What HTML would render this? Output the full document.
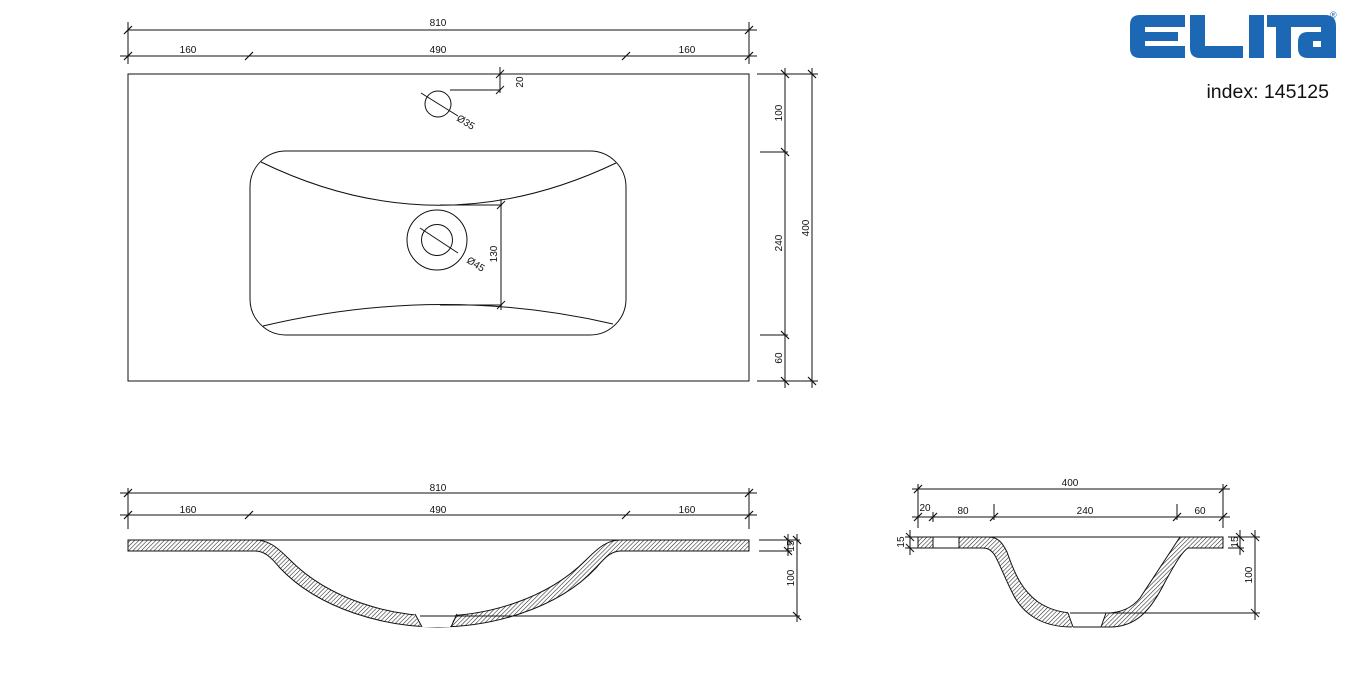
<!DOCTYPE html>
<html><head><meta charset="utf-8"><style>
html,body{margin:0;padding:0;background:#fff;}
svg{display:block;}
text{font-family:"Liberation Sans",sans-serif;font-size:10px;fill:#111;}
</style></head><body>
<svg width="1351" height="674" viewBox="0 0 1351 674" xmlns="http://www.w3.org/2000/svg">
<defs>
<pattern id="h" width="3" height="3" patternUnits="userSpaceOnUse" patternTransform="rotate(45)">
<rect width="3" height="3" fill="#fff"/><line x1="0" y1="0" x2="0" y2="3" stroke="#222" stroke-width="1.1"/>
</pattern>
</defs>
<g stroke="#111" stroke-width="1" fill="none">
<rect x="128" y="74" width="621" height="307"/>
<line x1="128" y1="30" x2="757" y2="30"/><line x1="120" y1="56" x2="757" y2="56"/>
<line x1="128" y1="22" x2="128" y2="64"/><line x1="749" y1="22" x2="749" y2="64"/>
<g stroke-width="1.2">
<line x1="124" y1="34" x2="132" y2="26"/><line x1="745" y1="34" x2="753" y2="26"/>
<line x1="124" y1="60" x2="132" y2="52"/><line x1="245" y1="60" x2="253" y2="52"/>
<line x1="622" y1="60" x2="630" y2="52"/><line x1="745" y1="60" x2="753" y2="52"/>
</g>
<circle cx="438" cy="104" r="13"/>
<line x1="421" y1="93" x2="458" y2="116"/>
<line x1="500" y1="67" x2="500" y2="93"/><line x1="450" y1="90" x2="500" y2="90"/>
<line x1="496" y1="78" x2="504" y2="70"/><line x1="496" y1="94" x2="504" y2="86"/>
<rect x="250" y="151" width="376" height="184" rx="36"/>
<path d="M261,162 Q438,248 616,163"/>
<path d="M263,326 Q440,284 613,324"/>
<circle cx="437" cy="240" r="30"/><circle cx="437" cy="240" r="15.5"/>
<line x1="420" y1="228" x2="458" y2="253"/>
<line x1="440" y1="205" x2="502" y2="205"/><line x1="440" y1="305" x2="502" y2="305"/>
<line x1="501" y1="199" x2="501" y2="310"/>
<line x1="497" y1="209" x2="505" y2="201"/><line x1="497" y1="309" x2="505" y2="301"/>
<line x1="757" y1="74" x2="818" y2="74"/><line x1="760" y1="152" x2="788" y2="152"/>
<line x1="760" y1="335" x2="788" y2="335"/><line x1="757" y1="381" x2="818" y2="381"/>
<line x1="785" y1="68" x2="785" y2="388"/><line x1="812" y1="68" x2="812" y2="388"/>
<g stroke-width="1.2">
<line x1="781" y1="70" x2="789" y2="78"/><line x1="781" y1="148" x2="789" y2="156"/>
<line x1="781" y1="331" x2="789" y2="339"/><line x1="781" y1="377" x2="789" y2="385"/>
<line x1="808" y1="70" x2="816" y2="78"/><line x1="808" y1="377" x2="816" y2="385"/>
</g>
<line x1="120" y1="493" x2="757" y2="493"/><line x1="120" y1="515" x2="757" y2="515"/>
<line x1="128" y1="488" x2="128" y2="529"/><line x1="749" y1="488" x2="749" y2="529"/>
<g stroke-width="1.2">
<line x1="124" y1="497" x2="132" y2="489"/><line x1="745" y1="497" x2="753" y2="489"/>
<line x1="124" y1="519" x2="132" y2="511"/><line x1="245" y1="519" x2="253" y2="511"/>
<line x1="622" y1="519" x2="630" y2="511"/><line x1="745" y1="519" x2="753" y2="511"/>
</g>
<line x1="255" y1="540" x2="620" y2="540"/>
<path d="M128,540 L255,540 C268,540 276,546 290,560 C330,600 390,616 438,616 C486,616 546,600 586,560 C600,546 608,540 621,540 L749,540 L749,551 L621,551 C612,551 606,556 596,568 C556,610 490,627 438,627 C386,627 320,610 280,568 C270,556 264,551 255,551 L128,551 Z" fill="url(#h)" stroke-width="1"/>
<path d="M414,614 L456,614 L450,627 L421,627 Z" fill="#fff" stroke="none"/>
<line x1="415" y1="614" x2="422" y2="627"/><line x1="457" y1="614" x2="451" y2="627"/>
<line x1="420" y1="616" x2="456" y2="616"/>
<line x1="456" y1="616" x2="800" y2="616"/>
<line x1="759" y1="540" x2="800" y2="540"/><line x1="759" y1="551" x2="792" y2="551"/>
<line x1="788" y1="534" x2="788" y2="556"/><line x1="797" y1="534" x2="797" y2="622"/>
<g stroke-width="1.2">
<line x1="784" y1="536" x2="792" y2="544"/><line x1="784" y1="547" x2="792" y2="555"/>
<line x1="793" y1="536" x2="801" y2="544"/><line x1="793" y1="612" x2="801" y2="620"/>
</g>
<line x1="912" y1="489" x2="1230" y2="489"/><line x1="912" y1="517" x2="1230" y2="517"/>
<line x1="918" y1="484" x2="918" y2="528"/><line x1="1223" y1="484" x2="1223" y2="528"/>
<line x1="933" y1="512" x2="933" y2="522"/><line x1="994" y1="504" x2="994" y2="520"/><line x1="1177" y1="504" x2="1177" y2="520"/>
<g stroke-width="1.2">
<line x1="914" y1="493" x2="922" y2="485"/><line x1="1219" y1="493" x2="1227" y2="485"/>
<line x1="914" y1="521" x2="922" y2="513"/><line x1="929" y1="521" x2="937" y2="513"/>
<line x1="990" y1="521" x2="998" y2="513"/><line x1="1173" y1="521" x2="1181" y2="513"/>
<line x1="1219" y1="521" x2="1227" y2="513"/>
</g>
<line x1="918" y1="537" x2="1223" y2="537"/>
<rect x="918" y="537" width="15" height="11" fill="url(#h)"/>
<rect x="933" y="537" width="26" height="11" fill="#fff"/>
<path d="M959,537 L988,537 C998,537 1002,542 1007,552 C1015,575 1022,590 1038,602 C1050,610 1062,613 1075,613 L1106,613 C1120,613 1132,608 1140,598 L1180,537 L1223,537 L1223,548 L1188,548 C1182,552 1176,562 1165,582 C1150,612 1135,627 1110,627 L1072,627 C1042,627 1022,614 1012,592 C1004,576 998,560 994,554 C990,549 987,548 982,548 L959,548 Z" fill="url(#h)"/>
<path d="M1068,612 L1106,612 L1101,628 L1072,628 Z" fill="#fff" stroke="none"/>
<line x1="1068" y1="613" x2="1073" y2="627"/><line x1="1106" y1="613" x2="1101" y2="627"/>
<line x1="1070" y1="613" x2="1106" y2="613"/><line x1="1073" y1="627" x2="1101" y2="627"/>
<line x1="1106" y1="613" x2="1260" y2="613"/>
<line x1="905" y1="537" x2="918" y2="537"/><line x1="905" y1="548" x2="918" y2="548"/>
<line x1="910" y1="530" x2="910" y2="555"/>
<line x1="906" y1="533" x2="914" y2="541"/><line x1="906" y1="544" x2="914" y2="552"/>
<line x1="1228" y1="537" x2="1260" y2="537"/><line x1="1228" y1="548" x2="1244" y2="548"/>
<line x1="1240" y1="530" x2="1240" y2="555"/><line x1="1255" y1="530" x2="1255" y2="620"/>
<line x1="1236" y1="533" x2="1244" y2="541"/><line x1="1236" y1="544" x2="1244" y2="552"/>
<line x1="1251" y1="533" x2="1259" y2="541"/><line x1="1251" y1="609" x2="1259" y2="617"/>
</g>
<text x="438" y="26" text-anchor="middle">810</text>
<text x="188" y="53" text-anchor="middle">160</text>
<text x="438" y="53" text-anchor="middle">490</text>
<text x="687" y="53" text-anchor="middle">160</text>
<text transform="translate(523,82) rotate(-90)" text-anchor="middle">20</text>
<text transform="translate(456,120) rotate(32)">Ø35</text>
<text transform="translate(466,262) rotate(32)">Ø45</text>
<text transform="translate(497,254) rotate(-90)" text-anchor="middle">130</text>
<text transform="translate(782,113) rotate(-90)" text-anchor="middle">100</text>
<text transform="translate(782,243) rotate(-90)" text-anchor="middle">240</text>
<text transform="translate(782,358) rotate(-90)" text-anchor="middle">60</text>
<text transform="translate(809,228) rotate(-90)" text-anchor="middle">400</text>
<text x="438" y="491" text-anchor="middle">810</text>
<text x="188" y="513" text-anchor="middle">160</text>
<text x="438" y="513" text-anchor="middle">490</text>
<text x="687" y="513" text-anchor="middle">160</text>
<text transform="translate(794,546) rotate(-90)" text-anchor="middle">15</text>
<text transform="translate(794,578) rotate(-90)" text-anchor="middle">100</text>
<text x="1070" y="486" text-anchor="middle">400</text>
<text x="925" y="511" text-anchor="middle">20</text>
<text x="963" y="514" text-anchor="middle">80</text>
<text x="1085" y="514" text-anchor="middle">240</text>
<text x="1200" y="514" text-anchor="middle">60</text>
<text transform="translate(904,542) rotate(-90)" text-anchor="middle">15</text>
<text transform="translate(1238,542) rotate(-90)" text-anchor="middle">15</text>
<text transform="translate(1252,575) rotate(-90)" text-anchor="middle">100</text>
<g fill="#1c68b4">
<path d="M1140,15 L1185,15 L1185,27 L1145,27 L1145,32 L1178,32 L1178,41 L1145,41 L1145,46 L1185,46 L1185,58 L1140,58 Q1130,58 1130,48 L1130,25 Q1130,15 1140,15 Z"/>
<path d="M1190,15 L1205,15 L1205,46 L1243,46 L1243,58 L1200,58 Q1190,58 1190,48 Z"/>
<rect x="1249" y="15" width="15" height="43"/>
<rect x="1267" y="15" width="34" height="12"/><rect x="1276" y="15" width="15" height="43"/>
<path d="M1298,15 L1325,15 Q1336,15 1336,26 L1336,58 L1308,58 Q1298,58 1298,48 L1298,42 Q1298,32 1308,32 L1321,32 L1321,27 L1298,27 Z M1313,41 L1313,47 L1321,47 L1321,41 Z"/>
</g>
<text x="1330" y="18" style="font-size:9px;fill:#1c68b4">®</text>
<text x="1329" y="98" text-anchor="end" style="font-size:19.5px;fill:#111">index: 145125</text>
</svg>
</body></html>
